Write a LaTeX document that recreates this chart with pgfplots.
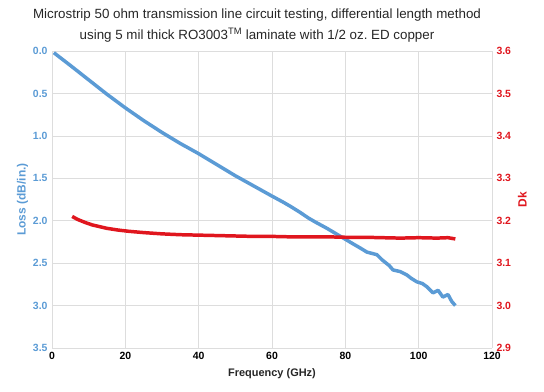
\documentclass[border=0pt]{standalone}
\usepackage{fontspec}
\setmainfont{Liberation Sans}
\usepackage{pgfplots}
\pgfplotsset{compat=1.18}
\definecolor{lossblue}{HTML}{5B9BD5}
\definecolor{dkred}{HTML}{E0161E}
\definecolor{gridgray}{HTML}{DDDDDD}
\begin{document}
\frenchspacing
\begin{tikzpicture}
\useasboundingbox (0,0) rectangle (544bp,392bp);
\node[font=\fontsize{13.4}{21}\selectfont, align=center, text=black!85] at (257bp,366.5bp)
  {Microstrip 50 ohm transmission line circuit testing, differential length method\\
   using 5 mil thick RO3003\textsuperscript{TM} laminate with 1/2 oz.\ ED copper};
\begin{axis}[
  at={(52bp,44bp)}, anchor=south west,
  scale only axis, width=440bp, height=297bp,
  xmin=0, xmax=120, ymin=0, ymax=3.5, y dir=reverse,
  xtick={0,20,...,120}, ytick={0,0.5,...,3.5},
  xmajorgrids, ymajorgrids,
  grid style={gridgray, line width=0.6pt},
  axis line style={gridgray, line width=0.8pt},
  axis x line*=bottom, axis y line*=left,
  major tick length=0pt,
  /pgf/number format/assume math mode=true,
  yticklabel style={/pgf/number format/fixed, /pgf/number format/fixed zerofill, /pgf/number format/precision=1,
    font=\fontsize{10.5}{12}\selectfont\bfseries, text=lossblue, xshift=-1bp},
  xticklabel style={font=\fontsize{10.5}{12}\selectfont\bfseries, text=black, yshift=-1bp},
  ylabel={Loss (dB/in.)},
  ylabel style={font=\fontsize{12}{14}\selectfont\bfseries, text=lossblue, yshift=-2bp},
  xlabel={Frequency (GHz)},
  xlabel style={font=\fontsize{11}{13}\selectfont\bfseries, text=black!85, yshift=-2bp},
]
\addplot[lossblue, line width=3.5pt, line join=round] coordinates {
(0.5,0.02) (5,0.17) (10,0.34) (15,0.51) (20,0.67) (25,0.82) (30,0.96) (35,1.09)
(40,1.21) (45,1.34) (50,1.47) (55,1.59) (60,1.71) (63,1.78) (65,1.83) (67.6,1.90)
(70,1.97) (72,2.02) (75,2.09) (78.5,2.18) (82,2.27) (84,2.32) (85.9,2.37) (88.6,2.40)
(90,2.46) (92,2.53) (93,2.58) (95,2.60) (96.8,2.64) (98,2.68) (99.5,2.72) (101,2.74)
(102.3,2.78) (103.9,2.85) (105.3,2.82) (106.6,2.90) (108,2.87) (109,2.95) (110,3.00)
};
\end{axis}
\begin{axis}[
  at={(52bp,44bp)}, anchor=south west,
  scale only axis, width=440bp, height=297bp,
  xmin=0, xmax=120, ymin=2.9, ymax=3.6,
  axis x line=none, axis y line*=right,
  axis line style={gridgray, line width=0.8pt},
  ytick={2.9,3.0,...,3.6},
  major tick length=0pt,
  /pgf/number format/assume math mode=true,
  yticklabel style={/pgf/number format/fixed, /pgf/number format/fixed zerofill, /pgf/number format/precision=1,
    font=\fontsize{10.5}{12}\selectfont\bfseries, text=dkred, xshift=1bp},
  ylabel={Dk},
  ylabel style={font=\fontsize{12}{14}\selectfont\bfseries, text=dkred},
]
\addplot[dkred, line width=3.5pt, line join=round] coordinates {
(5.5,3.210) (7,3.203) (9,3.196) (11,3.190) (13,3.186) (15,3.182) (18,3.178) (21,3.175)
(25,3.172) (30,3.169) (35,3.167) (40,3.166) (45,3.165) (50,3.164) (55,3.163) (60,3.163)
(65,3.162) (70,3.162) (75,3.162) (80,3.161) (85,3.161) (90,3.160) (95,3.159) (100,3.160)
(105,3.159) (108,3.160) (110,3.157)
};
\end{axis}
\end{tikzpicture}
\end{document}
